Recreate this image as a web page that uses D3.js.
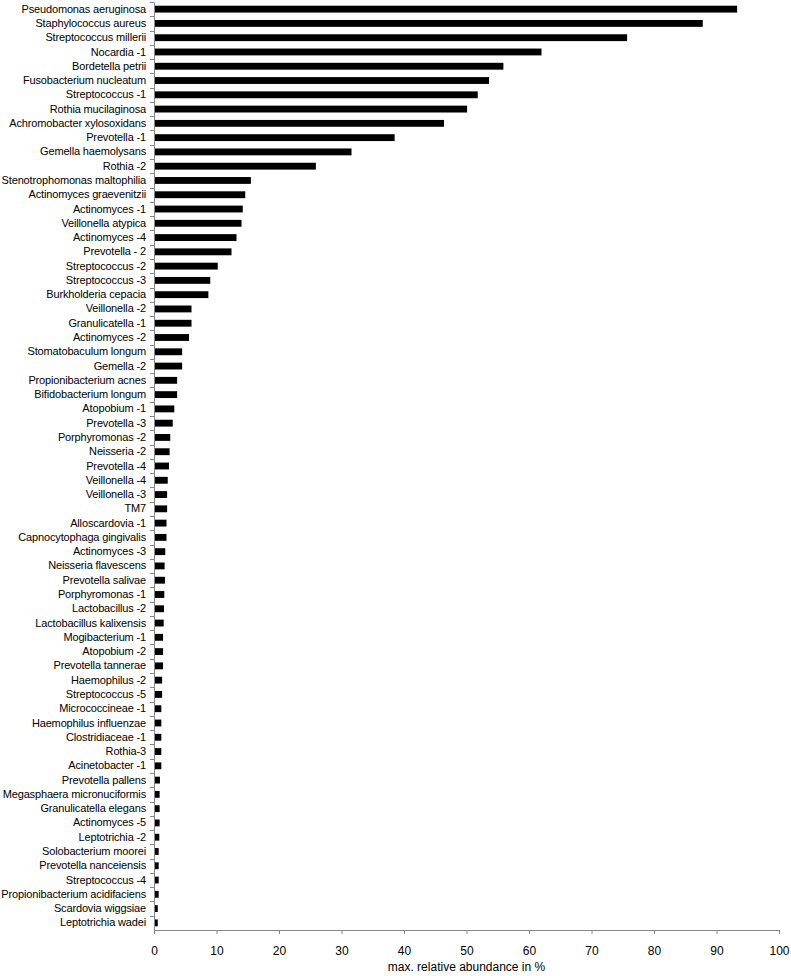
<!DOCTYPE html>
<html>
<head>
<meta charset="utf-8">
<script src="https://cdn.jsdelivr.net/npm/d3@7"></script>
<style>
  body { margin: 0; background: #fff; }
  text { font-family: "Liberation Sans", Arial, sans-serif; }
</style>
</head>
<body>
<svg id="chart"></svg>
<script>
// taxa, ordered by max relative abundance
const taxa = [
  "Pseudomonas aeruginosa", "Staphylococcus aureus", "Streptococcus millerii", "Nocardia -1",
  "Bordetella petrii", "Fusobacterium nucleatum", "Streptococcus -1", "Rothia mucilaginosa",
  "Achromobacter xylosoxidans", "Prevotella -1", "Gemella haemolysans", "Rothia -2",
  "Stenotrophomonas maltophilia", "Actinomyces graevenitzii", "Actinomyces -1", "Veillonella atypica",
  "Actinomyces -4", "Prevotella - 2", "Streptococcus -2", "Streptococcus -3",
  "Burkholderia cepacia", "Veillonella -2", "Granulicatella -1", "Actinomyces -2",
  "Stomatobaculum longum", "Gemella -2", "Propionibacterium acnes", "Bifidobacterium longum",
  "Atopobium -1", "Prevotella -3", "Porphyromonas -2", "Neisseria -2",
  "Prevotella -4", "Veillonella -4", "Veillonella -3", "TM7",
  "Alloscardovia -1", "Capnocytophaga gingivalis", "Actinomyces -3", "Neisseria flavescens",
  "Prevotella salivae", "Porphyromonas -1", "Lactobacillus -2", "Lactobacillus kalixensis",
  "Mogibacterium -1", "Atopobium -2", "Prevotella tannerae", "Haemophilus -2",
  "Streptococcus -5", "Micrococcineae -1", "Haemophilus influenzae", "Clostridiaceae -1",
  "Rothia-3", "Acinetobacter -1", "Prevotella pallens", "Megasphaera micronuciformis",
  "Granulicatella elegans", "Actinomyces -5", "Leptotrichia -2", "Solobacterium moorei",
  "Prevotella nanceiensis", "Streptococcus -4", "Propionibacterium acidifaciens", "Scardovia wiggsiae",
  "Leptotrichia wadei"
];

// max. relative abundance in %
const abundance = [
  93.3, 87.8, 75.7, 62.0,
  55.9, 53.6, 51.8, 50.1,
  46.4, 38.5, 31.6, 25.9,
  15.5, 14.6, 14.2, 14.0,
  13.2, 12.4, 10.2, 9.0,
  8.7, 6.0, 6.0, 5.6,
  4.5, 4.5, 3.7, 3.7,
  3.25, 3.0, 2.6, 2.5,
  2.4, 2.2, 2.1, 2.1,
  2.0, 2.0, 1.8, 1.7,
  1.75, 1.65, 1.6, 1.55,
  1.45, 1.45, 1.45, 1.3,
  1.3, 1.17, 1.17, 1.17,
  1.17, 1.17, 0.95, 0.9,
  0.9, 0.9, 0.85, 0.75,
  0.75, 0.75, 0.75, 0.6,
  0.6
];

const xTicks = [0, 10, 20, 30, 40, 50, 60, 70, 80, 90, 100];

const data = taxa.map((name, i) => ({ name: name, value: abundance[i] }));

const W = 791, H = 976;
const margin = { top: 2, right: 12, bottom: 46, left: 154 };
const width = W - margin.left - margin.right,
      height = H - margin.top - margin.bottom;
const axisColor = "#868686";
const font = "'Liberation Sans', Arial, sans-serif";

const svg = d3.select("#chart").attr("width", W).attr("height", H);
const g = svg.append("g").attr("transform", "translate(" + margin.left + "," + margin.top + ")");

const x = d3.scaleLinear().domain([0, 100]).range([0, width]);
const y = d3.scaleBand()
  .domain(taxa)
  .range([0, height])
  .paddingInner(0.52)
  .paddingOuter(0.26);

// bars
g.selectAll(".bar")
  .data(data)
  .enter().append("rect")
  .attr("class", "bar")
  .attr("x", x(0))
  .attr("y", d => y(d.name))
  .attr("width", d => x(d.value) - x(0))
  .attr("height", y.bandwidth())
  .attr("fill", "#000");

// y axis: labels, ticks between categories
const yAxis = g.append("g")
  .call(d3.axisLeft(y).tickSize(0).tickPadding(8));
yAxis.select(".domain").attr("stroke", axisColor);
yAxis.selectAll("text")
  .attr("font-size", 11)
  .attr("letter-spacing", "-0.15px")
  .attr("fill", "#000")
  .attr("font-family", font);

const gap = (y.step() - y.bandwidth()) / 2;
g.append("g").selectAll("line")
  .data(taxa)
  .enter().append("line")
  .attr("x1", -4).attr("x2", 0)
  .attr("y1", d => Math.round(y(d) - gap) + 0.5)
  .attr("y2", d => Math.round(y(d) - gap) + 0.5)
  .attr("stroke", axisColor);

// x axis
const xAxis = g.append("g")
  .attr("transform", "translate(0," + height + ")")
  .call(d3.axisBottom(x).tickValues(xTicks).tickSize(4).tickPadding(12).tickSizeOuter(0));
xAxis.selectAll("line, .domain").attr("stroke", axisColor);
xAxis.selectAll("text").attr("font-size", 12).attr("fill", "#000")
  .attr("font-family", font);

g.append("text")
  .attr("x", width / 2)
  .attr("y", height + 41)
  .attr("text-anchor", "middle")
  .attr("font-size", 12)
  .attr("font-family", font)
  .text("max. relative abundance in %");
</script>
</body>
</html>
